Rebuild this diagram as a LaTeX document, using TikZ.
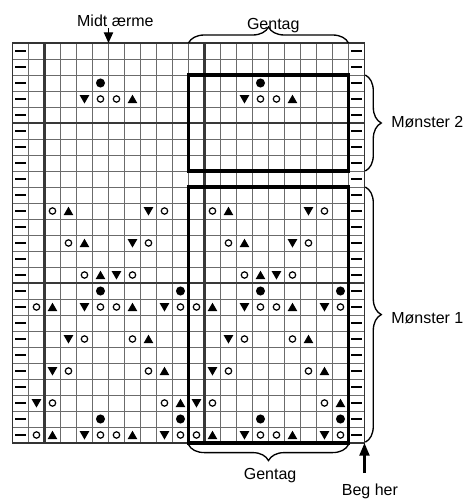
\documentclass[tikz,border=0pt]{standalone}
\usepackage{fontspec}
\setmainfont{Liberation Sans}
\usetikzlibrary{arrows.meta,positioning,shapes.geometric,decorations.pathreplacing}
\tikzset{
  thingrid/.style={draw=black!58, line width=0.7pt},
  thickgrid/.style={draw=black!78, line width=1.6pt},
  purl/.style={fill=black, inner sep=0pt, minimum width=7.8pt, minimum height=2pt},
  yarnover/.style={circle, draw=black, line width=0.9pt, inner sep=0pt, minimum size=4.8pt},
  bobble/.style={circle, fill=black, inner sep=0pt, minimum size=6.8pt},
  knitup/.style={regular polygon, regular polygon sides=3, fill=black,
    inner sep=0pt, minimum size=8.4pt, yshift=-1pt},
  knitdown/.style={regular polygon, regular polygon sides=3, shape border rotate=180,
    fill=black, inner sep=0pt, minimum size=8.4pt, yshift=0.8pt},
  repeatbox/.style={draw=black, line width=2.6pt},
  bracket/.style={decorate, decoration={brace, amplitude=12pt}, line width=1pt},
  chartlabel/.style={font=\fontsize{12pt}{14pt}\selectfont, inner sep=0pt},
  pointer/.style={-{Triangle[length=8pt, width=7pt]}, line width=0.9pt},
  startarrow/.style={-{Triangle[length=9.5pt, width=7.5pt]}, line width=1.6pt}
}
\begin{document}
\begin{tikzpicture}[x=12pt, y=12pt]
\useasboundingbox (-0.78,-3.5625) rectangle (28.28,27.6875);

% grid
\foreach \i in {0,...,22} \draw[thingrid] (\i,0) -- (\i,25);
\foreach \j in {0,...,25} \draw[thingrid] (0,\j) -- (22,\j);
\draw[thickgrid] (2,0) -- (2,25);
\draw[thickgrid] (12,0) -- (12,25);
\draw[thickgrid] (0,10) -- (22,10);
\draw[thickgrid] (0,20) -- (22,20);
\draw[draw=black!80, line width=0.9pt] (0,0) rectangle (22,25);

% edge stitches
\foreach \r in {1,...,25} {
  \node[purl] (pl-\r) at (0.5,\r-0.5) {};
  \node[purl] (pr-\r) at (21.5,\r-0.5) {};
}

% pattern, repeated every 10 stitches
\foreach \s in {0,10} {
  \foreach \c/\r in {6/22,7/22,3/15,10/15,4/13,9/13,5/11,8/11,
                     2/9,6/9,7/9,11/9,5/7,8/7,4/5,9/5,3/3,10/3,2/1,6/1,7/1,11/1}
    \node[yarnover] (yo-\c-\r-\s) at (\c+\s-0.5,\r-0.5) {};
  \foreach \c/\r in {8/22,4/15,5/13,6/11,3/9,8/9,9/7,10/5,11/3,3/1,8/1}
    \node[knitup] (ku-\c-\r-\s) at (\c+\s-0.5,\r-0.5) {};
  \foreach \c/\r in {5/22,9/15,8/13,7/11,5/9,10/9,4/7,3/5,2/3,5/1,10/1}
    \node[knitdown] (kd-\c-\r-\s) at (\c+\s-0.5,\r-0.5) {};
  \foreach \c/\r in {6/23,6/10,11/10,6/2,11/2}
    \node[bobble] (bo-\c-\r-\s) at (\c+\s-0.5,\r-0.5) {};
}

% repeat boxes
\draw[repeatbox] (11,17) rectangle (21,23);
\draw[repeatbox] (11,0) rectangle (21,16);

% labels
\coordinate (midtfoot) at (6,25);
\coordinate (midthead) at (6,25.95);
\node[chartlabel, anchor=base] (midt) at (6.43,26.06) {Midt ærme};
\draw[pointer] (midthead) -- (midtfoot);

\coordinate (reptopL) at (11,25);
\coordinate (reptopR) at (21,25);
\draw[bracket] (reptopL) -- (reptopR);
\node[chartlabel, anchor=base] (gentagtop) at (16.3,25.86) {Gentag};

\coordinate (repbotL) at (11,-0.1);
\coordinate (repbotR) at (21,-0.1);
\draw[bracket] (repbotR) -- (repbotL);
\node[chartlabel, anchor=base] (gentagbot) at (16.1,-2.3) {Gentag};

\coordinate (m2top) at (22.05,23);
\coordinate (m2bot) at (22.05,17);
\draw[bracket] (m2top) -- (m2bot);
\node[chartlabel, anchor=west] (m2) at (23.66,20.05) {Mønster 2};

\coordinate (m1top) at (22.05,16);
\coordinate (m1bot) at (22.05,0.05);
\draw[bracket] (m1top) -- (m1bot);
\node[chartlabel, anchor=west] (m1) at (23.66,7.8) {Mønster 1};

\coordinate (begtail) at (22,-1.875);
\coordinate (begtip) at (22,0);
\draw[startarrow] (begtail) -- (begtip);
\node[chartlabel, anchor=base] (beg) at (22.34,-3.3) {Beg her};
\end{tikzpicture}
\end{document}
